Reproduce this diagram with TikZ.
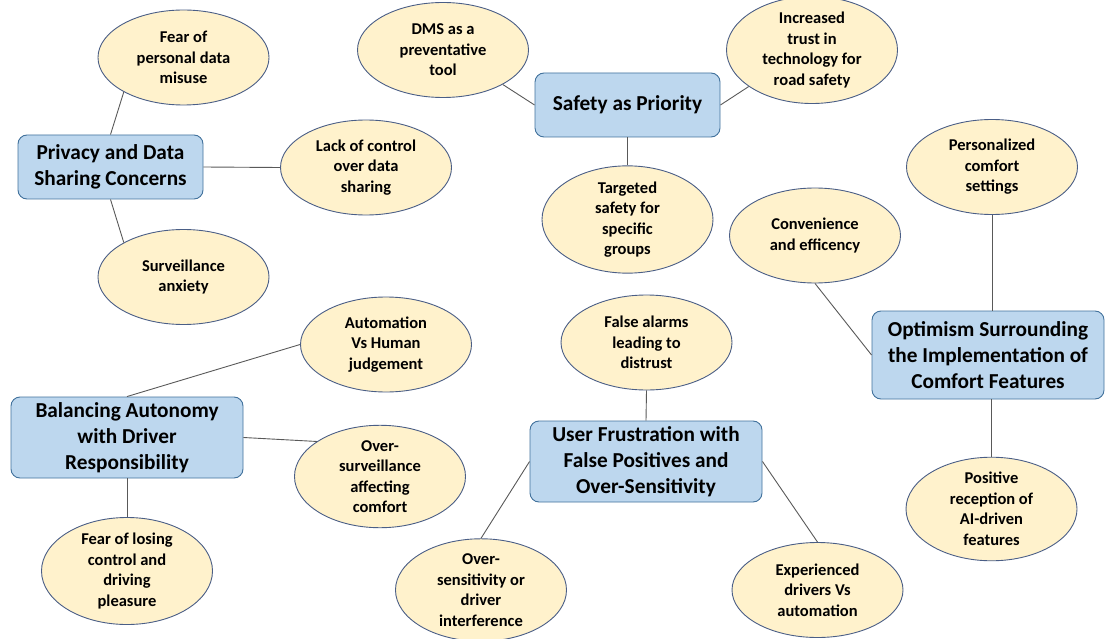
\documentclass[tikz,border=0pt]{standalone}
\usepackage{fontspec}
\setmainfont{Carlito}
\usetikzlibrary{shapes.geometric}

\definecolor{themefill}{HTML}{BDD7EE}
\definecolor{themeline}{HTML}{41719C}
\definecolor{ideafill}{HTML}{FFF2CC}
\definecolor{idealine}{HTML}{4A5E86}
\definecolor{linkgray}{HTML}{595959}

\tikzset{
  theme/.style={draw=themeline,fill=themefill,rounded corners=9pt,line width=0.9pt,
    inner sep=0pt,align=center,font=\fontsize{21.3}{26}\selectfont\bfseries},
  idea/.style={ellipse,draw=idealine,fill=ideafill,line width=0.9pt,inner sep=0pt,
    minimum width=171pt,minimum height=95pt,align=center,
    font=\fontsize{16.5}{20.5}\selectfont\bfseries},
  link/.style={draw=linkgray,line width=0.9pt}
}

\begin{document}
\begin{tikzpicture}[x=1pt,y=-1pt]
    \useasboundingbox (0,0) rectangle (1105,639);

    % privacy
    \node[theme,minimum width=185pt,minimum height=64pt] (priv) at (110.5,167) {Privacy and Data\\Sharing Concerns};
    \node[idea] (misuse) at (183.5,57.5) {Fear of\\personal data\\misuse};
    \node[idea] (ctrl) at (366,167.5) {Lack of control\\over data\\sharing};
    \node[idea] (surv) at (183.5,277) {Surveillance\\anxiety};
    \draw[link] (priv.north) -- (misuse.210);
    \draw[link] (priv.east) -- (ctrl.west);
    \draw[link] (priv.south) -- (surv.150);

    % safety
    \node[theme,minimum width=185pt,minimum height=64pt] (safe) at (627.5,105) {Safety as Priority};
    \node[idea] (dms) at (443,50) {DMS as a\\preventative\\tool};
    \node[idea] (trust) at (812,50) {Increased\\trust in\\technology for\\road safety};
    \node[idea] (groups) at (627.5,219.5) {Targeted\\safety for\\specific\\groups};
    \draw[link] (safe.west) -- (dms.330);
    \draw[link] (safe.east) -- (trust.210);
    \draw[link] (safe.south) -- (groups.north);

    % comfort
    \node[theme,minimum width=232pt,minimum height=88pt] (opt) at (988,355) {Optimism Surrounding\\the Implementation of\\Comfort Features};
    \node[idea] (pers) at (992,167) {Personalized\\comfort\\settings};
    \node[idea] (conv) at (815,235.5) {Convenience\\and efficency};
    \node[idea] (recep) at (991.5,509) {Positive\\reception of\\AI-driven\\features};
    \draw[link] (pers.south) -- (pers.south |- opt.north);
    \draw[link] (conv.south) -- (opt.west);
    \draw[link] (recep.north |- opt.south) -- (recep.north);

    % autonomy
    \node[theme,minimum width=232pt,minimum height=81pt] (bal) at (127,437.5) {Balancing Autonomy\\with Driver\\Responsibility};
    \node[idea] (auto) at (386,344.5) {Automation\\Vs Human\\judgement};
    \node[idea] (over) at (380,476.5) {Over-\\surveillance\\affecting\\comfort};
    \node[idea] (losing) at (127,571) {Fear of losing\\control and\\driving\\pleasure};
    \draw[link] (bal.north) -- (auto.west);
    \draw[link] (bal.east) -- (over.151);
    \draw[link] (bal.south) -- (losing.north);

    % false positives
    \node[theme,minimum width=232pt,minimum height=81pt] (frus) at (646,461.5) {User Frustration with\\False Positives and\\Over-Sensitivity};
    \node[idea] (alarm) at (646.5,342.5) {False alarms\\leading to\\distrust};
    \node[idea] (sens) at (481,590) {Over-\\sensitivity or\\driver\\interference};
    \node[idea] (exp) at (817.5,590) {Experienced\\drivers Vs\\automation};
    \draw[link] (alarm.south) -- (frus.north);
    \draw[link] (frus.west) -- (sens.north);
    \draw[link] (frus.east) -- (exp.north);
\end{tikzpicture}
\end{document}
